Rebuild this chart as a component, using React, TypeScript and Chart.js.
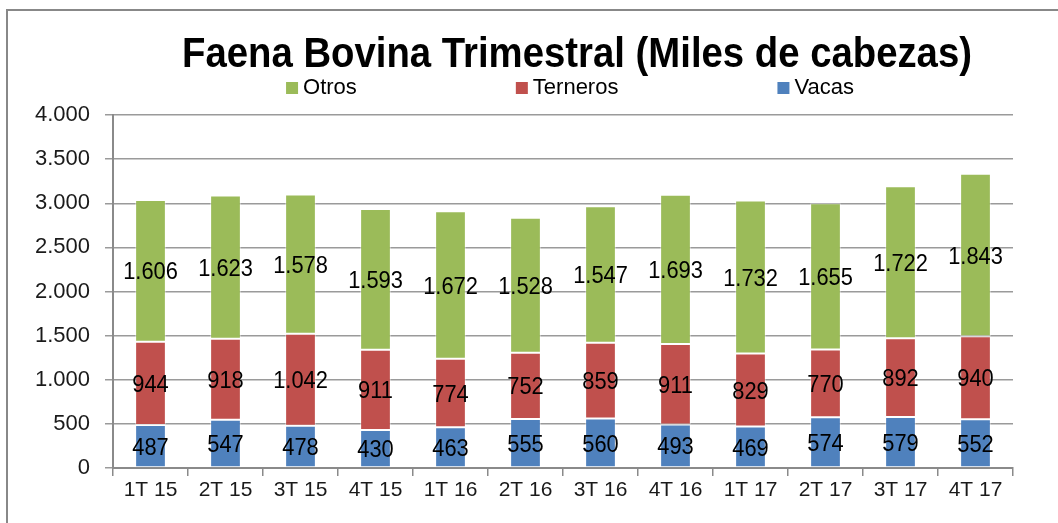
import React, { useEffect, useRef } from "react";
import { Chart, registerables } from "chart.js";

Chart.register(...registerables);

const chartTitle = "Faena Bovina Trimestral (Miles de cabezas)";
const categories = ["1T 15", "2T 15", "3T 15", "4T 15", "1T 16", "2T 16", "3T 16", "4T 16", "1T 17", "2T 17", "3T 17", "4T 17"];
const vacas = [487, 547, 478, 430, 463, 555, 560, 493, 469, 574, 579, 552];
const terneros = [944, 918, 1042, 911, 774, 752, 859, 911, 829, 770, 892, 940];
const otros = [1606, 1623, 1578, 1593, 1672, 1528, 1547, 1693, 1732, 1655, 1722, 1843];
const seriesNames = ["Vacas", "Terneros", "Otros"];
const seriesColors = ["#4F81BD", "#C0504D", "#9BBB59"];
const yMin = 0;
const yMax = 4000;
const yStep = 500;

const fmt = (v: number) => String(v).replace(/\B(?=(\d{3})+(?!\d))/g, ".");

const FONT = '"Liberation Sans", Arial, sans-serif';
const TITLE_WIDTH = 790;

const overlayPlugin = {
  id: "overlay",
  afterDatasetsDraw(chart: any) {
    const ctx = chart.ctx;
    ctx.save();
    ctx.font = `24px ${FONT}`;
    ctx.fillStyle = "#000";
    ctx.textAlign = "center";
    ctx.textBaseline = "middle";
    chart.data.datasets.forEach((ds: any, i: number) => {
      const meta = chart.getDatasetMeta(i);
      meta.data.forEach((el: any, j: number) => {
        const p = el.getProps(["x", "y", "base"], true);
        ctx.save();
        ctx.translate(p.x, (p.y + p.base) / 2 + 2);
        ctx.scale(0.91, 1);
        ctx.fillText(fmt(ds.data[j]), 0, 0);
        ctx.restore();
      });
    });
    ctx.restore();
  },
  afterDraw(chart: any) {
    const ctx = chart.ctx;
    const ca = chart.chartArea;
    const cx = (ca.left + ca.right) / 2;
    ctx.save();
    // title (bold, horizontally condensed)
    ctx.font = `bold 42px ${FONT}`;
    ctx.fillStyle = "#000";
    ctx.textAlign = "center";
    ctx.textBaseline = "alphabetic";
    const tw = ctx.measureText(chartTitle).width;
    const sx = Math.min(1, TITLE_WIDTH / tw);
    ctx.save();
    ctx.translate(cx + 14, 67);
    ctx.scale(sx, 1);
    ctx.fillText(chartTitle, 0, 0);
    ctx.restore();
    // legend (reverse order)
    ctx.font = `22px ${FONT}`;
    const items = chart.data.datasets.map((d: any) => ({ label: d.label, color: d.backgroundColor })).reverse();
    const box = 12;
    const gapText = 5;
    const gapItem = 159;
    const widths = items.map((it: any) => box + gapText + ctx.measureText(it.label).width);
    const total = widths.reduce((a: number, b: number) => a + b, 0) + gapItem * (items.length - 1);
    let x = cx + 7 - total / 2;
    ctx.textAlign = "left";
    items.forEach((it: any, k: number) => {
      ctx.fillStyle = it.color;
      ctx.fillRect(x, 82, box, box);
      ctx.fillStyle = "#000";
      ctx.fillText(it.label, x + box + gapText, 94);
      x += widths[k] + gapItem;
    });
    ctx.restore();
  },
};

export default function App() {
  const ref = useRef<HTMLCanvasElement>(null);
  useEffect(() => {
    if (!ref.current) return;
    const seriesData = [vacas, terneros, otros];
    const chart = new Chart(ref.current, {
      type: "bar",
      data: {
        labels: categories,
        datasets: seriesNames.map((name, i) => ({
          label: name,
          data: seriesData[i],
          backgroundColor: seriesColors[i],
          borderColor: "rgba(255,255,255,0.45)",
          borderWidth: 1,
          borderSkipped: false,
          barPercentage: 0.41,
          categoryPercentage: 1,
        })),
      },
      options: {
        responsive: false,
        animation: false,
        devicePixelRatio: 1,
        layout: { padding: { left: 0, right: 45, top: 115, bottom: 25 } },
        plugins: {
          legend: { display: false },
          title: { display: false },
          tooltip: { enabled: false },
        },
        scales: {
          x: {
            stacked: true,
            afterFit: (s: any) => { s.height = 30; },
            grid: { drawOnChartArea: false, offset: true, drawTicks: true, tickLength: 8, color: "#8a8a8a", lineWidth: 1.5 },
            border: { color: "#8a8a8a", width: 2 },
            ticks: { color: "#1a1a1a", font: { family: FONT, size: 21 }, padding: 2, maxRotation: 0, autoSkip: false },
          },
          y: {
            stacked: true,
            min: yMin,
            max: yMax,
            afterFit: (s: any) => { s.width = 113; },
            grid: { color: "#9a9a9a", lineWidth: 1.5, tickLength: 8 },
            border: { color: "#8a8a8a", width: 2 },
            ticks: { stepSize: yStep, color: "#1a1a1a", font: { family: FONT, size: 22 }, padding: 15, callback: (v: any) => fmt(Number(v)) },
          },
        },
      },
      plugins: [overlayPlugin],
    });
    return () => chart.destroy();
  }, []);
  return (
    <div style={{ position: "absolute", left: 0, top: 0, width: 1058, height: 523, overflow: "hidden", background: "#fff" }}>
      <div style={{ position: "absolute", left: 6, top: 9, width: 1080, height: 540, border: "2px solid #888" }} />
      <canvas ref={ref} width={1058} height={523} style={{ position: "absolute", left: 0, top: 0 }} />
    </div>
  );
}
